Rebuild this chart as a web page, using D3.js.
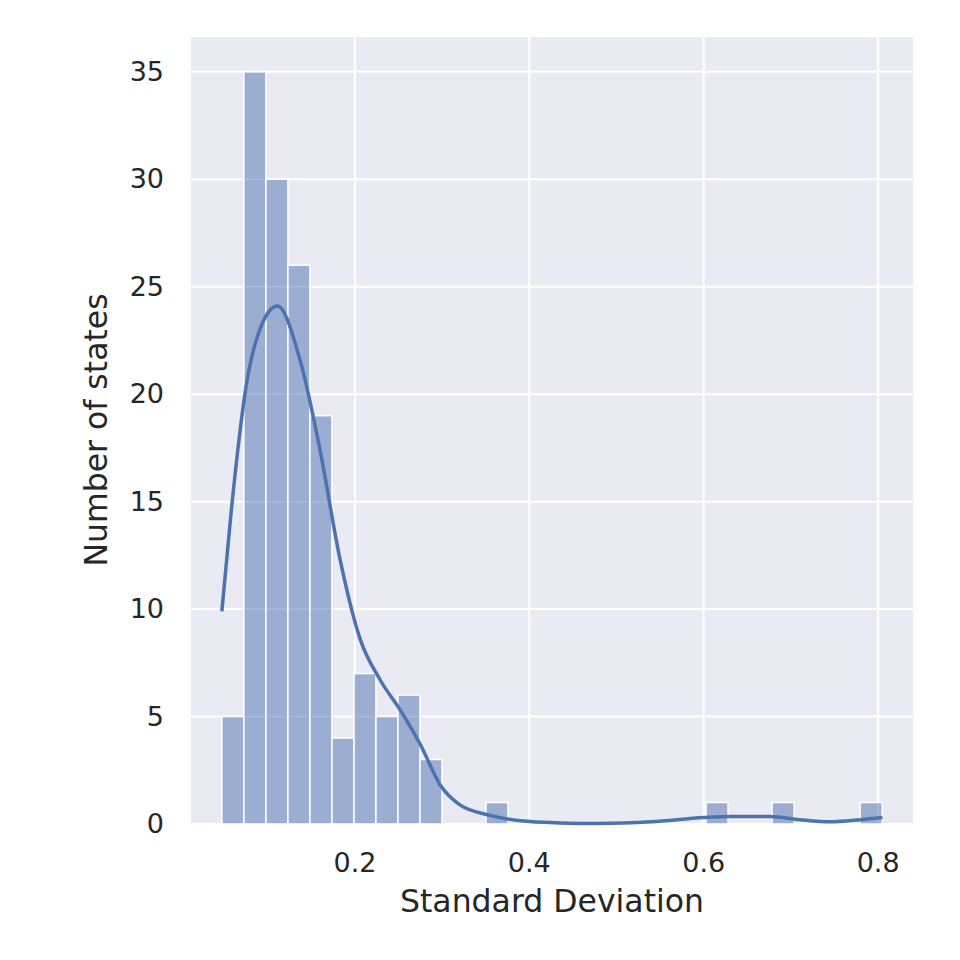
<!DOCTYPE html>
<html><head><meta charset="utf-8">
<script src="https://cdn.jsdelivr.net/npm/d3@7"></script>
<style>body{margin:0;background:#fff}text{font-family:"DejaVu Sans",sans-serif;fill:#262626}</style>
</head><body>
<svg width="960" height="960"></svg>
<script>
// histogram: 30 bins
var binStart = 0.0474, binWidth = 0.02524;
var counts = [5,35,30,26,19,4,7,5,6,3,0,0,1,0,0,0,0,0,0,0,0,0,1,0,0,1,0,0,0,1];
// kde curve
var kdeX = [0.0474,0.058,0.0757,0.095,0.111,0.137,0.160,0.183,0.206,0.229,0.252,0.275,0.298,0.320,0.355,0.390,0.435,0.480,0.540,0.600,0.630,0.676,0.710,0.745,0.780,0.805];
var kdeY = [9.9,14.5,20.5,23.4,24.1,21.6,17.4,12.3,8.6,6.7,5.3,3.7,1.8,0.9,0.4,0.15,0.05,0.02,0.1,0.3,0.35,0.35,0.2,0.1,0.2,0.3];
var xTicks = [0.2,0.4,0.6,0.8];
var yTicks = [0,5,10,15,20,25,30,35];

var svg = d3.select("svg");
var L = 191, R = 913, T = 37, B = 824;
var x = d3.scaleLinear().domain([0.012, 0.840]).range([L, R]);
var y = d3.scaleLinear().domain([0, 36.62]).range([B, T]);

svg.append("rect").attr("x", L).attr("y", T).attr("width", R - L).attr("height", B - T).attr("fill", "#eaeaf2");

svg.selectAll(".gx").data(xTicks).enter().append("line")
    .attr("x1", d => x(d)).attr("x2", d => x(d)).attr("y1", T).attr("y2", B)
    .attr("stroke", "#fff").attr("stroke-width", 2);
svg.selectAll(".gy").data(yTicks).enter().append("line")
    .attr("y1", d => y(d)).attr("y2", d => y(d)).attr("x1", L).attr("x2", R)
    .attr("stroke", "#fff").attr("stroke-width", 2);

var bins = counts.map((c, i) => ({x0: binStart + i * binWidth, n: c})).filter(d => d.n > 0);
svg.selectAll(".bar").data(bins).enter().append("rect")
    .attr("x", d => x(d.x0))
    .attr("width", x(binWidth) - x(0))
    .attr("y", d => y(d.n)).attr("height", d => B - y(d.n))
    .attr("fill", "rgba(76,114,176,0.5)").attr("stroke", "#fff").attr("stroke-width", 1.5);

var line = d3.line().x(d => x(d[0])).y(d => y(d[1])).curve(d3.curveMonotoneX);
svg.append("path").datum(d3.zip(kdeX, kdeY)).attr("d", line)
    .attr("fill", "none").attr("stroke", "#4c72b0").attr("stroke-width", 3.5);

svg.selectAll(".tx").data(xTicks).enter().append("text")
    .attr("x", d => x(d)).attr("y", B + 48).attr("text-anchor", "middle")
    .attr("font-size", 27).text(d => d.toFixed(1));
svg.selectAll(".ty").data(yTicks).enter().append("text")
    .attr("x", L - 27).attr("y", d => y(d) + 9).attr("text-anchor", "end")
    .attr("font-size", 27).text(d => d);

svg.append("text").attr("x", 552).attr("y", 912).attr("text-anchor", "middle")
    .attr("font-size", 31.5).text("Standard Deviation");
svg.append("text").attr("transform", "translate(107,430) rotate(-90)")
    .attr("text-anchor", "middle").attr("font-size", 31.5).text("Number of states");
</script>
</body></html>
